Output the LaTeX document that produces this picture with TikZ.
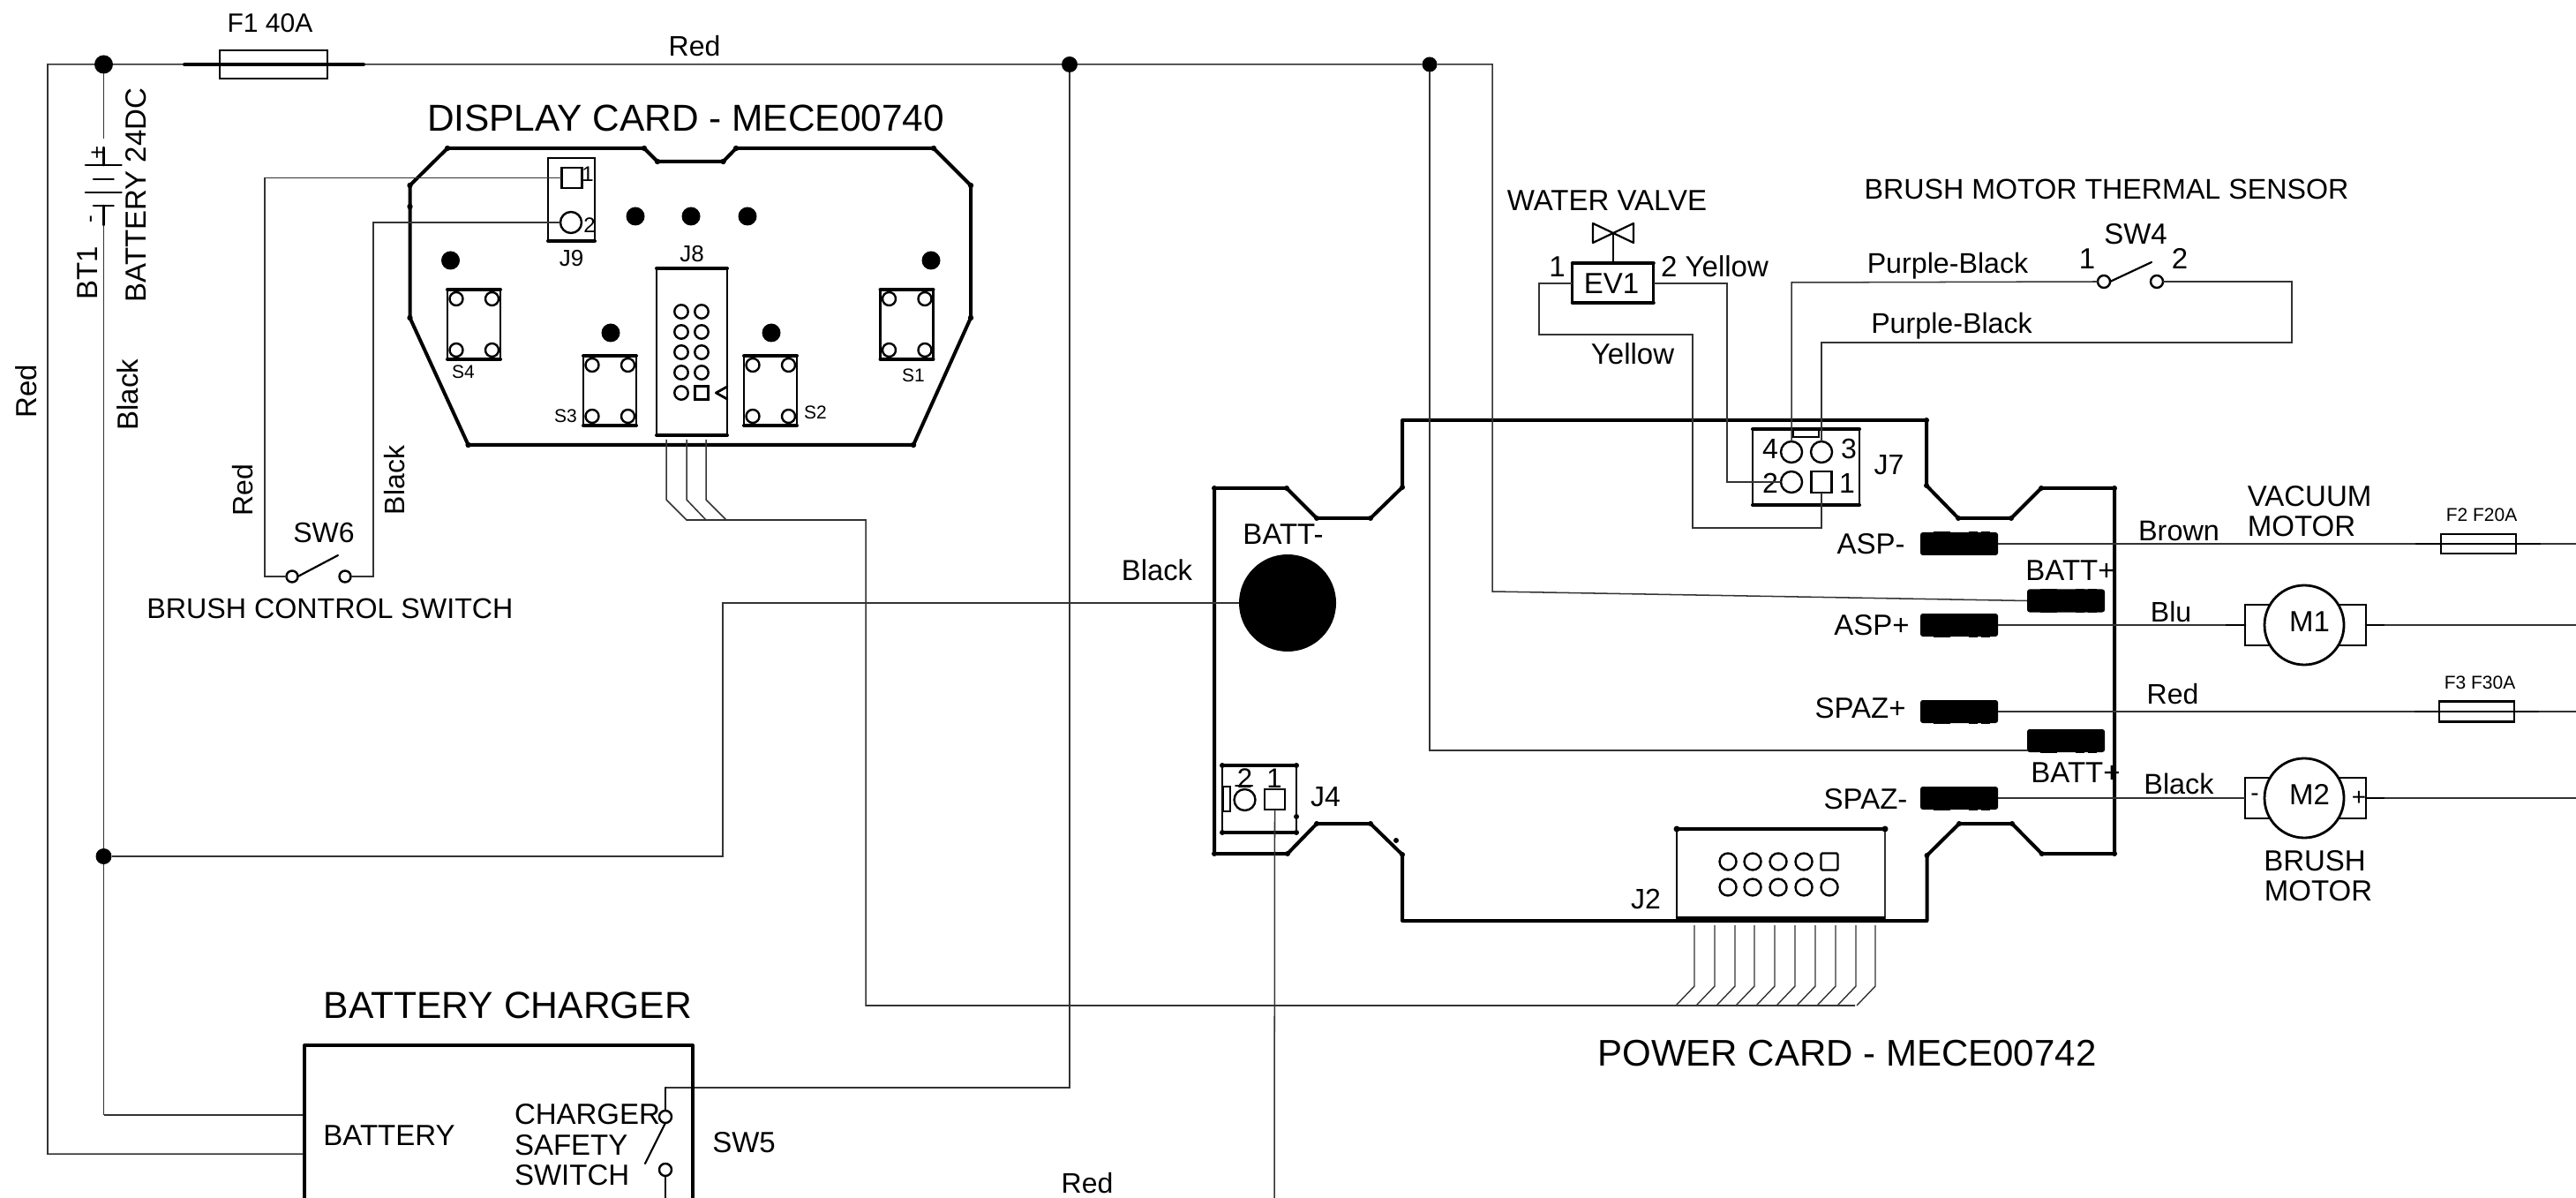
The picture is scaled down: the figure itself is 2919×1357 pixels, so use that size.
\documentclass[tikz,border=0pt]{standalone}
\usepackage{fontspec}
\setmainfont{Liberation Sans}
\tikzset{
 lab/.style={inner sep=0pt,outer sep=0pt,font=\fontsize{#1}{#1}\selectfont},
 wire/.style={line width=0.38pt,black!80,line join=miter},
 hv/.style={line width=1pt,line cap=round,line join=round},
 mid/.style={line width=0.7pt,line cap=round,line join=round},
 bx/.style 2 args={rectangle,draw,line width=0.7pt,inner sep=0pt,outer sep=0pt,minimum width=#1*0.25pt,minimum height=#2*0.25pt},
 pin/.style={circle,draw,line width=0.6pt,inner sep=0pt,outer sep=0pt,minimum size=#1*0.25pt},
 dot/.style={circle,fill=black,inner sep=0pt,outer sep=0pt,minimum size=#1*0.25pt},
 blk/.style={rectangle,fill=black,rounded corners=0.7pt,inner sep=0pt,outer sep=0pt,minimum width=88*0.25pt,minimum height=26*0.25pt},
}
\begin{document}
\begin{tikzpicture}[x=0.25pt,y=-0.25pt]
\useasboundingbox (0,0) rectangle (2919,1357);
\clip (0,0) rectangle (2919,1357);
% ---------- named terminals
\coordinate (tl) at (54,73);
\coordinate (chA) at (345,1263);
\coordinate (chB) at (345,1307);
\coordinate (topR) at (1691,73);
\coordinate (botJ4) at (1444,1357);
\coordinate (swBot) at (754,1357);
\node[dot=21] (j1) at (117.5,73) {};
\node[dot=18] (j2) at (1212,73) {};
\node[dot=17] (j3) at (1620,73) {};
\node[dot=18] (j4) at (117.5,970) {};
% ---------- display card
\draw[hv] (464.5,210)--(507,168)--(730,168)--(745,183)--(819.5,183)--(834,168)--(1058,168)--(1100,210)--(1100,360)--(1035,504)--(530.6,504)--(464.5,360)--cycle;
\foreach \p in {(464.5,210),(507,168),(730,168),(745,183),(819.5,183),(834,168),(1058,168),(1100,210),(1100,360),(1035,504),(530.6,504),(464.5,360),(464.5,234)}
  \fill \p circle[radius=3.2];
\node[bx={53}{94}] (J9) at (647.5,226) {};
\draw[hv] (J9.south west)--(J9.south east);
\node[bx={23}{23},line width=0.6pt] (J9a) at (648,201.5) {};
\node[pin=24] (J9b) at (647,252) {};
\node[lab=6] (J9n1) at (666,197) {1};
\node[lab=6] (J9n2) at (668,255) {2};
\node[lab=6.5] (J9t) at (647.6,293) {J9};
\foreach \n/\x/\y in {h1/720/245,h2/783/245,h3/847/245,h4/510.5/295,h5/1055/295,h6/692/377,h7/874/377}
  \node[dot=21] (\n) at (\x,\y) {};
\foreach \n/\cx/\cy in {S4/537/367.5,S3/691/442.5,S2/873/442.5,S1/1027.5/367.5}{
  \node[bx={60}{79}] (\n) at (\cx,\cy) {};
  \draw[hv] (\n.north west)--(\n.north east) (\n.south west)--(\n.south east);
  \foreach \dx/\dy in {-20/-29,20.5/-29,-20/29,20.5/29}
    \node[pin=15] at ([shift={(\dx,\dy)}]\n.center) {};
}
\node[lab=5.25] (S4t) at (525,421) {S4};
\node[lab=5.25] (S3t) at (641,471) {S3};
\node[lab=5.25] (S2t) at (924,467) {S2};
\node[lab=5.25] (S1t) at (1035,425) {S1};
\node[bx={80}{189}] (J8) at (784,398.5) {};
\draw[hv] (J8.north west)--(J8.north east) (J8.south west)--(J8.south east);
\node[lab=6.5] (J8t) at (784,288) {J8};
\foreach \y in {353,376,399,422,445}{
  \node[pin=15.5] at (772,\y) {};
  \ifnum\y<445 \node[pin=15.5] at (795,\y) {}; \fi
}
\node[bx={15}{15},line width=0.6pt] (J8sq) at (795,445) {};
\draw[mid] (824,438)--(811.4,445)--(824,452);
% J8 wires to J2
\coordinate (J8w1) at (755,498);
\coordinate (J8w2) at (778,498);
\coordinate (J8w3) at (800,498);
\draw[wire] (J8w1)--(755,566)--(778,589)--(800,589)--(823,589)--(981,589)--(981,1139)--(2102,1139);
\draw[wire] (J8w2)--(778,566)--(800,589);
\draw[wire] (J8w3)--(800,566)--(823,589);
% ---------- power card
\draw[hv] (1376,553)--(1458,553)--(1492,587)--(1553,587)--(1589,552)--(1589,476)--(2183,476)--(2183,550)--(2219,587)--(2279,587)--(2313,553)--(2396,553)--(2396,967)--(2313.6,967)--(2280,933)--(2220,933)--(2183.5,969)--(2183.5,1043)--(1589,1043)--(1589,968)--(1553,933)--(1492,933)--(1459,967)--(1376,967)--cycle;
\foreach \p in {(1376,553),(1458,553),(1492,587),(1553,587),(1589,552),(2183,476),(2183,550),(2219,587),(2279,587),(2313,553),(2396,553),(2396,967),(2313.6,967),(2280,933),(2220,933),(2183.5,969),(1589,968),(1553,933),(1492,933),(1459,967),(1376,967),(1582,952)}
  \fill \p circle[radius=3];
\node[dot=110] (battm) at (1459,683) {};
\node[lab=8.25] (battmT) at (1454,605) {BATT-};
% J4
\node[bx={84}{76},line width=0.6pt] (J4) at (1427,905) {};
\draw[hv] (J4.north west)--(J4.north east) (J4.south west)--(J4.south east);
\foreach \p in {(J4.north west),(J4.north east),(J4.south west),(J4.south east),(1469,925)} \fill \p circle[radius=3];
\node[bx={8}{28},line width=0.6pt] (J4t) at (1390,905) {};
\node[pin=24] (J4b) at (1410.5,906) {};
\node[bx={23}{23},line width=0.6pt] (J4a) at (1444.5,905.5) {};
\node[lab=7.8] (J4n2) at (1410.5,882) {2};
\node[lab=7.8] (J4n1) at (1444,882) {1};
\draw[mid,line width=0.5pt] (1400,890)--(1419,890);
\node[lab=8] (J4l) at (1502,903) {J4};
% J2
\draw[hv] (1900,939)--(2136,939);
\draw[mid] (1900,939)--(1900,1041);
\draw[wire] (2136,939)--(2136,1041);
\draw[line width=1.3pt] (1900,1041)--(2136,1041);
\fill (1900,939) circle[radius=3.5] (2136,939) circle[radius=3.5];
\foreach \x in {1958,1986,2015,2044}{
  \node[pin=19] at (\x,976) {};
  \node[pin=19] at (\x,1005) {};
}
\node[pin=19] (J2p) at (2073,1005) {};
\node[bx={19}{19},line width=0.6pt,rounded corners=0.4pt] (J2a) at (2073,976) {};
\node[lab=8] (J2t) at (1865,1018) {J2};
\foreach \x in {1920,1943,1966,1988,2011,2034,2057,2080,2103,2125}
  \draw[wire,line width=0.35pt] (\x,1048)--(\x,1117)--++(-21,22);
% J7
\node[bx={121}{86}] (J7) at (2046.5,529) {};
\draw[hv] (J7.north west)--(J7.north east) (J7.south west)--(J7.south east);
\node[bx={29}{9},line width=0.5pt] (J7tab) at (2046.5,490.5) {};
\node[pin=24] (J7p4) at (2030,512) {};
\node[pin=24] (J7p3) at (2064,512) {};
\node[pin=24] (J7p2) at (2030,546) {};
\node[bx={23}{24},line width=0.6pt] (J7p1) at (2064,546) {};
\node[lab=8] (J7n4) at (2006,508) {4};
\node[lab=8] (J7n3) at (2095,508) {3};
\node[lab=8] (J7n2) at (2006,547) {2};
\node[lab=8] (J7n1) at (2093,547) {1};
\node[lab=8] (J7t) at (2140.5,527) {J7};
% ---------- valve
\node[bx={92}{45}] (EV1) at (1827.75,320.5) {};
\draw[hv] (EV1.north west)--(EV1.north east) (EV1.south west)--(EV1.south east);
\node[lab=8.25] (EV1t) at (1826,321) {EV1};
\coordinate (vc) at (1828,264);
\draw[mid,line width=0.55pt] (EV1.north -| vc)--(vc);
\draw[mid,line width=0.55pt] (1805,253)--(1851,275)--(1851,253)--(1805,275)--cycle;
\node[lab=8.25] (wv) at (1821,227) {WATER VALVE};
\node[lab=8.25] (ev1) at (1764.5,302) {1};
\node[lab=8.25] (ev2) at (1943,302) {2 Yellow};
\node[lab=8.25] (yel) at (1850,401) {Yellow};
\coordinate (EVr) at (1873.75,321);
\coordinate (EVl) at (1781.75,321);
\draw[wire] (EVr)--(1957,321)--(1957,546)--(2018,546);
\draw[wire] (EVl)--(1744,321)--(1744,379)--(1918,379)--(1918,598)--(2064,598)--(J7p1.south);
% ---------- SW4
\node[pin=14] (sw4a) at (2384,319) {};
\node[pin=14] (sw4b) at (2444,319) {};
\draw[mid,line width=0.55pt] (sw4a.east)--(2438,297);
\node[lab=8.05] (bmts) at (2387,214) {BRUSH MOTOR THERMAL SENSOR};
\node[lab=8.25] (sw4t) at (2420,265) {SW4};
\node[lab=8.25] (sw41) at (2365,293) {1};
\node[lab=8.25] (sw42) at (2470,293) {2};
\node[lab=8.05] (pb1) at (2207,301) {Purple-Black};
\node[lab=8.05] (pb2) at (2211.5,369) {Purple-Black};
\draw[wire] (sw4a.west)--(2030,320)--(J7p4.north);
\draw[wire] (sw4b.east)--(2597,319)--(2597,388)--(2064,388)--(J7p3.north);
% ---------- terminals
\foreach \n/\cx/\cy in {aspm/2220/616,bat1/2341/680.5,aspp/2220/708,spzp/2220/806,bat2/2341/839,spzm/2220/904}{
  \node[blk] (\n) at (\cx,\cy) {};
  \foreach \dx in {-24,-15,16,30}
    \fill (\cx+\dx-5,\cy-13.5) rectangle (\cx+\dx+5,\cy+13.5);
}
\node[lab=8.25] (taspm) at (2120,616) {ASP-};
\node[lab=8.25] (tbat1) at (2346,646) {BATT+};
\node[lab=8.25] (taspp) at (2121,708) {ASP+};
\node[lab=8.25] (tspzp) at (2108,802) {SPAZ+};
\node[lab=8.25] (tbat2) at (2352,875) {BATT+};
\node[lab=8.25] (tspzm) at (2114,905) {SPAZ-};
\node[lab=8.1] (brown) at (2469,602) {Brown};
\node[lab=8] (blu) at (2460,693) {Blu};
\node[lab=8] (redm) at (2462,786) {Red};
\node[lab=8.1] (blackm) at (2469,888) {Black};
\node[lab=8.25] (vac1) at (2617,562) {VACUUM};
\node[lab=8.25] (vac2) at (2608,596) {MOTOR};
\node[lab=8.25] (bru1) at (2623,975) {BRUSH};
\node[lab=8.25] (bru2) at (2627,1009) {MOTOR};
% fuses
\node[bx={85}{22}] (F2) at (2808.5,616) {};
\draw[mid] (2737,616)--(2879,616);
\node[lab=5.25] (F2t) at (2812,583) {F2 F20A};
\node[bx={85}{23}] (F3) at (2806.5,806) {};
\draw[mid] (2736,806)--(2877,806);
\node[lab=5.25] (F3t) at (2810,773) {F3 F30A};
\draw[wire] (aspm.east)--(2737,616) (2879,616)--(2919,616);
\draw[wire] (spzp.east)--(2736,806) (2877,806)--(2919,806);
% motors
\node[bx={137}{46}] (M1box) at (2612.5,708) {};
\node[circle,draw,fill=white,line width=0.7pt,minimum size=90*0.25pt,inner sep=0pt] (M1) at (2611,708) {};
\node[lab=8.25] (M1t) at (2617,704) {M1};
\draw[mid] (2522,708)--(2544,708) (2681,708)--(2702,708);
\draw[wire] (aspp.east)--(2522,708) (2702,708)--(2919,708);
\node[bx={137}{46}] (M2box) at (2612.5,904) {};
\node[circle,draw,fill=white,line width=0.7pt,minimum size=90*0.25pt,inner sep=0pt] (M2) at (2611,904) {};
\node[lab=8.25] (M2t) at (2617,900) {M2};
\node[lab=7] (M2m) at (2555,903) {-};
\node[lab=7] (M2p) at (2673,904) {+};
\draw[mid] (2681,904)--(2702,904);
\draw[wire] (spzm.east)--(M2box.west) (2702,904)--(2919,904);
% ---------- main wires
\draw[wire] (chB)--(54,1307)--(tl)--(j1)--(j2)--(j3)--(topR)--(1691,670)--(bat1.west);
\draw[wire] (j3)--(1620,850)--(2298,850);
\draw[wire] (j2)--(1212,1232)--(754,1232);
\draw[wire] (j1)--(117.5,157);
\draw[wire] (117.5,255)--(j4)--(chA -| j4);
\draw[wire] (117.5,1263)--(chA);
\draw[wire] (j4)--(819,970)--(819,683)--(battm.west);
\draw[wire] (J4a.south)--(botJ4);
% ---------- F1
\node[bx={122}{32}] (F1) at (310,73) {};
\draw[hv] (209,73)--(412,73);
\node[lab=7.5] (F1t) at (306,26) {F1 40A};
\node[lab=8] (redt) at (787,52) {Red};
% ---------- battery
\draw[mid] (117.5,167)--(117.5,187) (97,187)--(137.5,187);
\draw[mid] (106,203)--(128.6,203);
\draw[mid] (97,218)--(137.5,218);
\draw[mid] (106,233)--(128.6,233) (117.5,233)--(117.5,255);
\node[lab=6.5,rotate=90] (btp) at (111,173) {+};
\node[lab=6.5,rotate=90] (btm) at (106,248) {-};
\node[lab=8.25,rotate=90] (BT1) at (99,309) {BT1};
\node[lab=8.25,rotate=90] (B24) at (154,221) {BATTERY 24DC};
\node[lab=8.25,rotate=90] (blackv) at (145,447) {Black};
\node[lab=8.25,rotate=90] (redv) at (30,443) {Red};
% ---------- SW6
\node[pin=13] (sw6a) at (331,653) {};
\node[pin=13] (sw6b) at (391,653) {};
\draw[mid,line width=0.55pt] (sw6a.east)--(383,629);
\draw[wire] (J9a.west)--(300,201.5)--(300,653)--(sw6a.west);
\draw[wire] (J9b.west)--(423,252)--(423,653)--(sw6b.east);
\node[lab=8,rotate=90] (redS) at (275.5,555) {Red};
\node[lab=8,rotate=90] (blackS) at (447,544) {Black};
\node[lab=8] (sw6t) at (367,603) {SW6};
\node[lab=8.05] (bcs) at (374,689) {BRUSH CONTROL SWITCH};
% ---------- labels
\node[lab=10.6] (dc) at (777,134) {DISPLAY CARD - MECE00740};
\node[lab=10.5] (pc) at (2093,1193) {POWER CARD - MECE00742};
\node[lab=10.65] (bc) at (575.5,1139) {BATTERY CHARGER};
\node[lab=8.2] (blackb) at (1311,646) {Black};
\node[lab=8] (redb) at (1232,1340) {Red};
% ---------- charger
\draw[hv] (345,1400)--(345,1184)--(785,1184)--(785,1400);
\node[lab=8.25] (chb) at (441,1286) {BATTERY};
\node[lab=8.25,anchor=west] (ch1) at (583,1262) {CHARGER};
\node[lab=8.25,anchor=west] (ch2) at (583,1297) {SAFETY};
\node[lab=8.25,anchor=west] (ch3) at (583,1331) {SWITCH};
\node[lab=8.25] (sw5) at (843,1294) {SW5};
\node[pin=14] (sw5a) at (754,1265) {};
\node[pin=14] (sw5b) at (754,1325) {};
\draw[mid,line width=0.55pt] (754,1232)--(sw5a.north);
\draw[mid,line width=0.55pt] (sw5a.south)--(731,1318);
\draw[mid,line width=0.55pt] (sw5b.south)--(swBot);
\end{tikzpicture}
\end{document}
